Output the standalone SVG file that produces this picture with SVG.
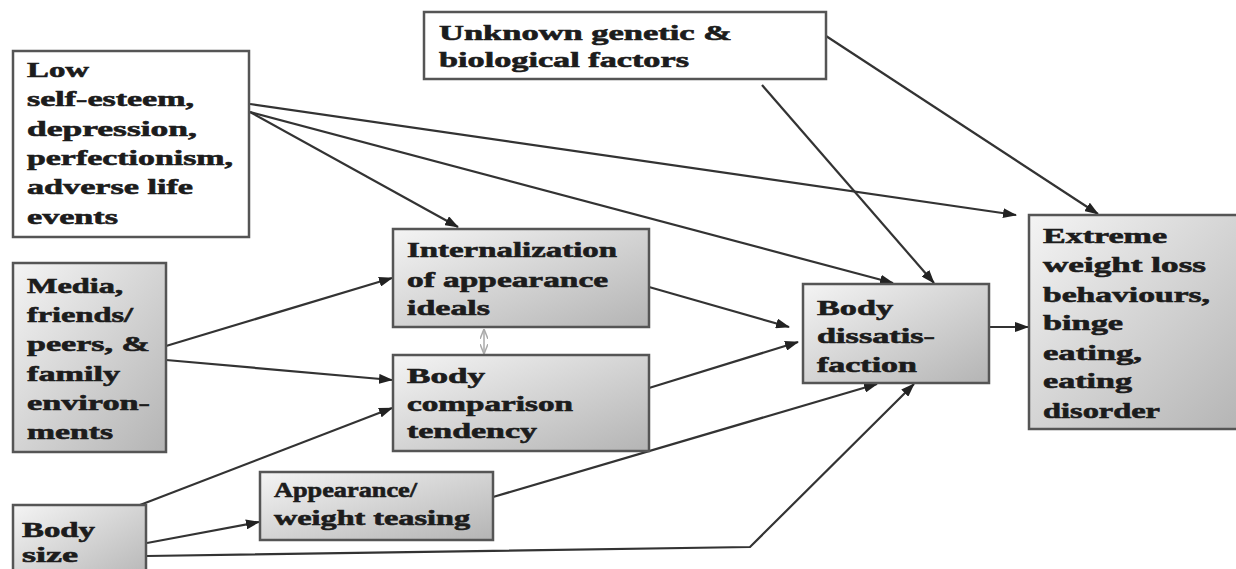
<svg xmlns="http://www.w3.org/2000/svg" width="1236" height="569" viewBox="0 0 1236 569">
<style>
.box{stroke:#555;stroke-width:2.5}
.w{fill:#fff}
.g{fill:url(#grad)}
.t{font-family:"Liberation Serif","Times New Roman",serif;font-weight:bold;font-size:21px;fill:#1c1c1c;stroke:#1c1c1c;stroke-width:0.6}
.c{fill:none;stroke:#333;stroke-width:2.2}
</style>
<defs>
<linearGradient id="grad" x1="0" y1="0" x2="1" y2="1">
<stop offset="0" stop-color="#f4f4f4"/>
<stop offset="1" stop-color="#b4b4b4"/>
</linearGradient>
<marker id="ah" markerUnits="userSpaceOnUse" markerWidth="14" markerHeight="10" refX="13" refY="5" orient="auto">
<path d="M0,0 L14,5 L0,10 Z" fill="#222"/>
</marker>
<marker id="ahl" markerUnits="userSpaceOnUse" markerWidth="10" markerHeight="8" refX="9" refY="4" orient="auto-start-reverse">
<path d="M0,0 L10,4 L0,8" fill="none" stroke="#aaa" stroke-width="1.5"/>
</marker>
</defs>
<rect width="1236" height="569" fill="#fff"/>

<g id="connectors">
<line class="c" x1="250" y1="112" x2="458" y2="227" marker-end="url(#ah)"/>
<line class="c" x1="250" y1="112" x2="893" y2="283" marker-end="url(#ah)"/>
<line class="c" x1="250" y1="104" x2="1016" y2="215" marker-end="url(#ah)"/>
<line class="c" x1="762" y1="85" x2="934" y2="283" marker-end="url(#ah)"/>
<line class="c" x1="826" y1="36" x2="1098" y2="214" marker-end="url(#ah)"/>
<line class="c" x1="166" y1="346" x2="392" y2="278" marker-end="url(#ah)"/>
<line class="c" x1="166" y1="360" x2="392" y2="380" marker-end="url(#ah)"/>
<line class="c" x1="140" y1="505" x2="392" y2="408" marker-end="url(#ah)"/>
<line class="c" x1="147" y1="543" x2="259" y2="522" marker-end="url(#ah)"/>
<polyline class="c" points="147,556 750,547 914,384" marker-end="url(#ah)"/>
<line class="c" x1="493" y1="497" x2="877" y2="384" marker-end="url(#ah)"/>
<line class="c" x1="649" y1="287" x2="789" y2="327" marker-end="url(#ah)"/>
<line class="c" x1="649" y1="388" x2="798" y2="342" marker-end="url(#ah)"/>
<line class="c" x1="989" y1="327" x2="1028" y2="327" marker-end="url(#ah)"/>
<line x1="484" y1="330" x2="484" y2="353" stroke="#aaa" stroke-width="1.5" marker-start="url(#ahl)" marker-end="url(#ahl)"/>
</g>

<g id="low">
<rect class="box w" x="13" y="51" width="236" height="186"/>
<text class="t"><tspan x="27" y="77" textLength="62" lengthAdjust="spacingAndGlyphs">Low</tspan><tspan x="27" y="106" textLength="167" lengthAdjust="spacingAndGlyphs">self-esteem,</tspan><tspan x="27" y="136" textLength="170" lengthAdjust="spacingAndGlyphs">depression,</tspan><tspan x="27" y="165" textLength="206" lengthAdjust="spacingAndGlyphs">perfectionism,</tspan><tspan x="27" y="194" textLength="166" lengthAdjust="spacingAndGlyphs">adverse life</tspan><tspan x="27" y="224" textLength="91" lengthAdjust="spacingAndGlyphs">events</tspan></text>
</g>

<g id="media">
<rect class="box g" x="13" y="263" width="153" height="189"/>
<text class="t"><tspan x="27" y="293" textLength="96" lengthAdjust="spacingAndGlyphs">Media,</tspan><tspan x="27" y="322" textLength="106" lengthAdjust="spacingAndGlyphs">friends/</tspan><tspan x="27" y="351" textLength="123" lengthAdjust="spacingAndGlyphs">peers, &amp;</tspan><tspan x="27" y="381" textLength="93" lengthAdjust="spacingAndGlyphs">family</tspan><tspan x="27" y="410" textLength="123" lengthAdjust="spacingAndGlyphs">environ-</tspan><tspan x="27" y="439" textLength="86" lengthAdjust="spacingAndGlyphs">ments</tspan></text>
</g>

<g id="internalization">
<rect class="box g" x="393" y="229" width="256" height="98"/>
<text class="t"><tspan x="407" y="257" textLength="210" lengthAdjust="spacingAndGlyphs">Internalization</tspan><tspan x="407" y="287" textLength="201" lengthAdjust="spacingAndGlyphs">of appearance</tspan><tspan x="407" y="315" textLength="83" lengthAdjust="spacingAndGlyphs">ideals</tspan></text>
</g>

<g id="comparison">
<rect class="box g" x="393" y="355" width="256" height="96"/>
<text class="t"><tspan x="407" y="383" textLength="78" lengthAdjust="spacingAndGlyphs">Body</tspan><tspan x="407" y="411" textLength="166" lengthAdjust="spacingAndGlyphs">comparison</tspan><tspan x="407" y="438" textLength="130" lengthAdjust="spacingAndGlyphs">tendency</tspan></text>
</g>

<g id="dissatisfaction">
<rect class="box g" x="803" y="284" width="186" height="99"/>
<text class="t"><tspan x="817" y="315" textLength="76" lengthAdjust="spacingAndGlyphs">Body</tspan><tspan x="817" y="343" textLength="118" lengthAdjust="spacingAndGlyphs">dissatis-</tspan><tspan x="817" y="372" textLength="100" lengthAdjust="spacingAndGlyphs">faction</tspan></text>
</g>

<g id="extreme">
<rect class="box g" x="1029" y="215" width="215" height="214"/>
<text class="t"><tspan x="1043" y="243" textLength="124" lengthAdjust="spacingAndGlyphs">Extreme</tspan><tspan x="1043" y="272" textLength="163" lengthAdjust="spacingAndGlyphs">weight loss</tspan><tspan x="1043" y="302" textLength="167" lengthAdjust="spacingAndGlyphs">behaviours,</tspan><tspan x="1043" y="330" textLength="80" lengthAdjust="spacingAndGlyphs">binge</tspan><tspan x="1043" y="360" textLength="99" lengthAdjust="spacingAndGlyphs">eating,</tspan><tspan x="1043" y="388" textLength="89" lengthAdjust="spacingAndGlyphs">eating</tspan><tspan x="1043" y="418" textLength="117" lengthAdjust="spacingAndGlyphs">disorder</tspan></text>
</g>

<g id="unknown">
<rect class="box w" x="424" y="12" width="402" height="67"/>
<text class="t"><tspan x="439" y="40" textLength="293" lengthAdjust="spacingAndGlyphs">Unknown genetic &amp;</tspan><tspan x="439" y="67" textLength="250" lengthAdjust="spacingAndGlyphs">biological factors</tspan></text>
</g>

<g id="bodysize">
<rect class="box g" x="13" y="505" width="133" height="80"/>
<text class="t"><tspan x="22" y="537" textLength="73" lengthAdjust="spacingAndGlyphs">Body</tspan><tspan x="22" y="562" textLength="56" lengthAdjust="spacingAndGlyphs">size</tspan></text>
</g>

<g id="teasing">
<rect class="box g" x="260" y="472" width="233" height="68"/>
<text class="t"><tspan x="274" y="497" textLength="143" lengthAdjust="spacingAndGlyphs">Appearance/</tspan><tspan x="274" y="525" textLength="196" lengthAdjust="spacingAndGlyphs">weight teasing</tspan></text>
</g>
</svg>
